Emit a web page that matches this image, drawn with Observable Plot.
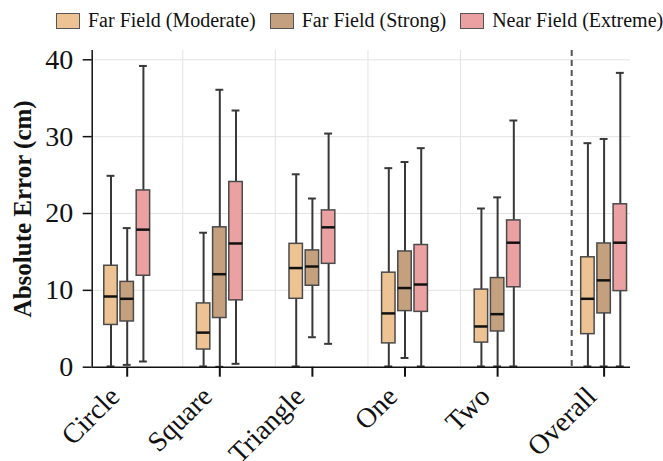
<!DOCTYPE html>
<html><head><meta charset="utf-8">
<script src="https://cdn.jsdelivr.net/npm/d3@7"></script>
<script src="https://cdn.jsdelivr.net/npm/@observablehq/plot@0.6"></script>
<style>
body{margin:0;background:#fff;font-family:"Liberation Serif","Times New Roman",serif;}
#legend{height:40px;display:flex;align-items:center;padding-left:56px;font-size:20px;color:#111;box-sizing:border-box;padding-top:1px;}
.item{display:flex;align-items:center;margin-right:14px;white-space:nowrap;}
.sw{width:22px;height:14px;border:1.5px solid #555;margin-right:8px;}
</style></head><body>
<div id="legend"></div>
<div id="chart"></div>
<script>
const categories = ["Circle", "Square", "Triangle", "One", "Two", "Overall"];
const positions = [0, 1, 2, 3, 4, 5.15];
const conditions = ["Far Field (Moderate)", "Far Field (Strong)", "Near Field (Extreme)"];
const colors = ["#EEC394", "#C4A07E", "#EBA0A2"];
const offsets = [-0.175, 0, 0.175];
const yTicks = [0, 10, 20, 30, 40];

// per condition, per category
const whiskerLow = [
  [0.1, 0.1, 0.1, 0.1, 0.1, 0.1],
  [0.3, 0.05, 3.9, 1.2, 0.1, 0.1],
  [0.74, 0.44, 3.04, 0.1, 0.1, 0.1]
];
const q1 = [
  [5.5, 2.3, 8.9, 3.1, 3.2, 4.3],
  [5.95, 6.4, 10.6, 7.3, 4.65, 7.0],
  [11.9, 8.7, 13.45, 7.2, 10.4, 9.9]
];
const median = [
  [9.2, 4.5, 12.9, 7.0, 5.3, 8.9],
  [8.9, 12.1, 13.1, 10.3, 6.9, 11.3],
  [17.9, 16.1, 18.2, 10.76, 16.2, 16.2]
];
const q3 = [
  [13.2, 8.3, 16.05, 12.3, 10.1, 14.3],
  [11.1, 18.2, 15.2, 15.06, 11.6, 16.1],
  [23.0, 24.1, 20.4, 15.9, 19.1, 21.2]
];
const whiskerHigh = [
  [24.9, 17.5, 25.1, 25.9, 20.65, 29.15],
  [18.1, 36.1, 21.95, 26.7, 22.1, 29.7],
  [39.2, 33.4, 30.4, 28.5, 32.1, 38.3]
];

const boxW = 0.145, capW = 0.085;
const xDomain = [-0.378, 5.435];
const yDomain = [0, 41.21];
const vGrid = [0.6, 1.6, 2.6, 3.6];
const separator = 4.8;

const rows = [];
conditions.forEach((c, j) => {
  categories.forEach((cat, i) => {
    const xc = positions[i] + offsets[j];
    rows.push({cond: c, cat, xc, x1: xc - boxW / 2, x2: xc + boxW / 2,
      c1: xc - capW / 2, c2: xc + capW / 2,
      low: whiskerLow[j][i], q1: q1[j][i], med: median[j][i], q3: q3[j][i], high: whiskerHigh[j][i]});
  });
});
const labelRows = categories.map((c, i) => ({c, x: positions[i]}));

const legend = document.getElementById("legend");
conditions.forEach((c, j) => {
  const it = document.createElement("div"); it.className = "item";
  const sw = document.createElement("div"); sw.className = "sw"; sw.style.background = colors[j];
  const t = document.createElement("span"); t.textContent = c;
  it.appendChild(sw); it.appendChild(t); legend.appendChild(it);
});

const FONT = '"Liberation Serif","Times New Roman",serif';
const chart = Plot.plot({
  width: 663, height: 421,
  marginTop: 10, marginBottom: 94.3, marginLeft: 91.7, marginRight: 33,
  x: {domain: xDomain, axis: null},
  y: {domain: yDomain, axis: null},
  color: {domain: conditions, range: colors},
  style: {fontFamily: FONT, background: "white", color: "#111"},
  marks: [
    Plot.ruleY(yTicks.slice(1), {stroke: "#e3e3e3", strokeWidth: 1}),
    Plot.ruleX(vGrid, {stroke: "#e3e3e3", strokeWidth: 1}),
    Plot.ruleX([separator], {stroke: "#555", strokeWidth: 2, strokeDasharray: "6,4"}),
    Plot.ruleX(rows, {x: "xc", y1: "low", y2: "high", stroke: "#383838", strokeWidth: 2}),
    Plot.ruleY(rows, {y: "high", x1: "c1", x2: "c2", stroke: "#383838", strokeWidth: 2}),
    Plot.ruleY(rows, {y: "low", x1: "c1", x2: "c2", stroke: "#383838", strokeWidth: 2}),
    Plot.rect(rows, {x1: "x1", x2: "x2", y1: "q1", y2: "q3", fill: "cond", stroke: "#4a4a4a", strokeWidth: 1.5}),
    Plot.ruleY(rows, {y: "med", x1: "x1", x2: "x2", stroke: "#111", strokeWidth: 2.5}),
    Plot.ruleX([xDomain[0]], {stroke: "#111", strokeWidth: 1.5}),
    Plot.ruleY([0], {stroke: "#111", strokeWidth: 1.5}),
    Plot.axisY({ticks: yTicks, tickSize: 9, tickPadding: 10, fontSize: 28, strokeWidth: 1.5, fontFamily: FONT, label: null}),
    Plot.axisX({ticks: positions, tickSize: 10, tickFormat: () => "", strokeWidth: 2, label: null}),
    Plot.text(labelRows, {x: "x", y: 0, text: "c", dx: -6, dy: 31, rotate: -45, textAnchor: "end", lineAnchor: "bottom", fontSize: 28, fontFamily: FONT, fill: "#111"}),
    Plot.text(["Absolute Error (cm)"], {frameAnchor: "left", dx: -69, rotate: -90, textAnchor: "middle", lineAnchor: "middle", fontSize: 25, fontWeight: "bold", fontFamily: FONT, fill: "#111"})
  ]
});
document.getElementById("chart").appendChild(chart);
</script>
</body></html>
